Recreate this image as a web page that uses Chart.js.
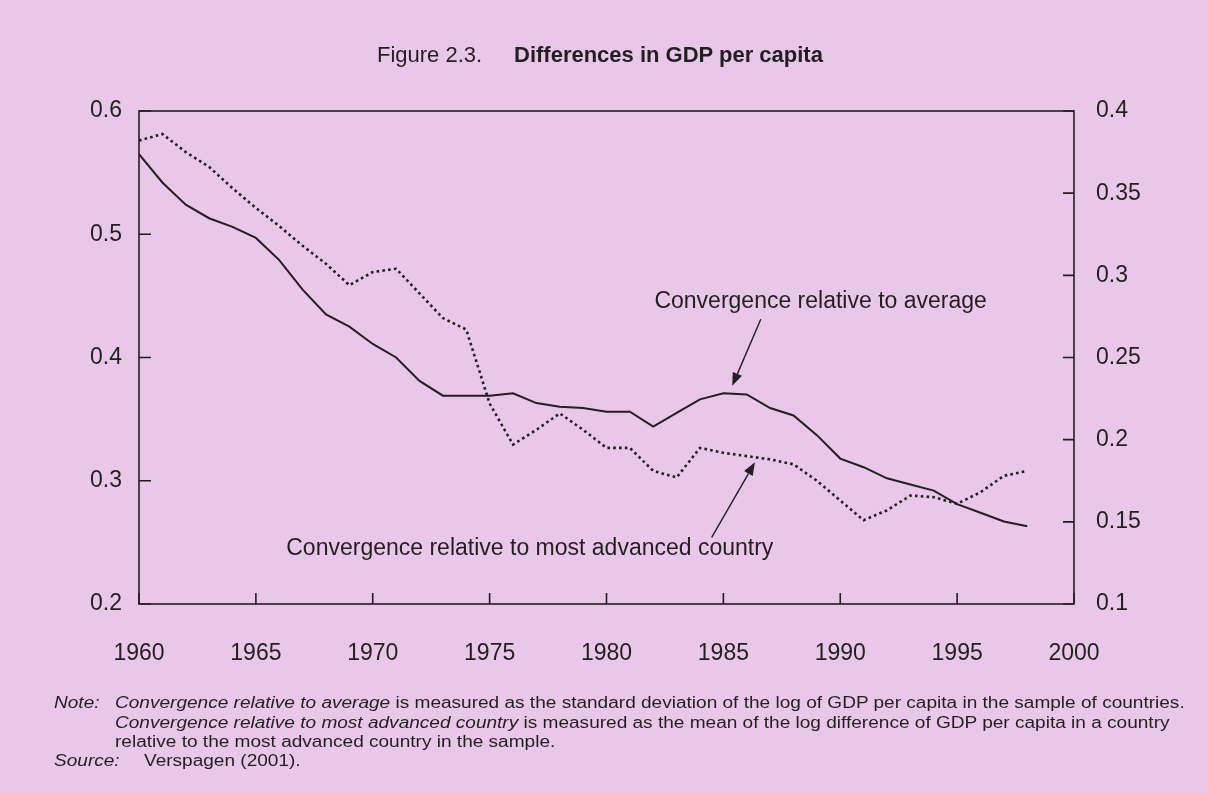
<!DOCTYPE html>
<html>
<head>
<meta charset="utf-8">
<script src="https://cdn.jsdelivr.net/npm/chart.js@4"></script>
<style>
  html, body { margin: 0; padding: 0; background: #e8c7e9; }
  body { width: 1207px; height: 793px; position: relative; overflow: hidden;
         font-family: "Liberation Sans", Arial, sans-serif; color: #231f20; }
  #wrap { position: absolute; left: 0; top: 0; width: 1207px; height: 793px; }
  .title { position: absolute; top: 42px; font-size: 22px; white-space: nowrap; }
  /* the printed note text is set wide, so stretch it a little */
  .note { position: absolute; font-size: 16px; line-height: 19.5px; white-space: nowrap;
          transform: scaleX(1.19); transform-origin: left top; }
</style>
</head>
<body>
<div id="wrap"><canvas id="myChart" width="1207" height="793"></canvas></div>
<div class="title" style="left:377px">Figure 2.3.</div>
<div class="title" style="left:514px"><b>Differences in GDP per capita</b></div>
<div class="note" style="left:54px; top:693px"><i>Note:</i></div>
<div class="note" style="left:115px; top:693px">
  <i>Convergence relative to average</i> is measured as the standard deviation of the log of GDP per capita in the sample of countries.<br>
  <i>Convergence relative to most advanced country</i> is measured as the mean of the log difference of GDP per capita in a country<br>
  relative to the most advanced country in the sample.
</div>
<div class="note" style="left:54px; top:751px"><i>Source:</i></div>
<div class="note" style="left:144px; top:751px">Verspagen (2001).</div>

<script>
// data
var years = [1960, 1961, 1962, 1963, 1964, 1965, 1966, 1967, 1968, 1969,
             1970, 1971, 1972, 1973, 1974, 1975, 1976, 1977, 1978, 1979,
             1980, 1981, 1982, 1983, 1984, 1985, 1986, 1987, 1988, 1989,
             1990, 1991, 1992, 1993, 1994, 1995, 1996, 1997, 1998];

// left axis: convergence relative to average
var relAverage = [0.565, 0.542, 0.524, 0.513, 0.506, 0.497, 0.479, 0.455, 0.435, 0.425,
                  0.411, 0.400, 0.381, 0.369, 0.369, 0.369, 0.371, 0.363, 0.360, 0.359,
                  0.356, 0.356, 0.344, 0.355, 0.366, 0.371, 0.370, 0.359, 0.353, 0.337,
                  0.318, 0.311, 0.302, 0.297, 0.292, 0.281, 0.274, 0.267, 0.263];

// right axis: convergence relative to most advanced country
var relAdvanced = [0.382, 0.386, 0.375, 0.366, 0.353, 0.341, 0.330, 0.318, 0.307, 0.294,
                   0.302, 0.304, 0.289, 0.274, 0.267, 0.222, 0.197, 0.206, 0.216, 0.206,
                   0.195, 0.195, 0.181, 0.177, 0.195, 0.192, 0.190, 0.188, 0.185, 0.175,
                   0.163, 0.151, 0.157, 0.166, 0.165, 0.161, 0.168, 0.178, 0.181];

var xTicks = [1960, 1965, 1970, 1975, 1980, 1985, 1990, 1995, 2000];
var leftTicks = [0.2, 0.3, 0.4, 0.5, 0.6];
var rightTicks = [0.1, 0.15, 0.2, 0.25, 0.3, 0.35, 0.4];

// labels with arrows, positioned in year / left-axis units
var labelAverage = { text: 'Convergence relative to average', x: 1982.05, y: 0.445,
                     from: [1986.6, 0.431], to: [1985.38, 0.377] };
var labelAdvanced = { text: 'Convergence relative to most advanced country', x: 1966.3, y: 0.245,
                      from: [1984.5, 0.254], to: [1986.35, 0.315] };

var ink = '#231f20';
var font = '"Liberation Sans", Arial, sans-serif';

function pts(vals) {
    return years.map(function (y, i) { return { x: y, y: vals[i] }; });
}

var frame = {
    id: 'frame',
    afterDraw: function (chart) {
        var ctx = chart.ctx, a = chart.chartArea;
        var sx = chart.scales.x, sl = chart.scales.yL, sr = chart.scales.yR;
        ctx.save();
        ctx.strokeStyle = ink;
        ctx.lineWidth = 1.6;
        ctx.strokeRect(a.left, a.top, a.right - a.left, a.bottom - a.top);
        ctx.beginPath();
        xTicks.forEach(function (v) {
            var p = sx.getPixelForValue(v);
            ctx.moveTo(p, a.bottom); ctx.lineTo(p, a.bottom - 11);
        });
        leftTicks.forEach(function (v) {
            var p = sl.getPixelForValue(v);
            ctx.moveTo(a.left, p); ctx.lineTo(a.left + 12, p);
        });
        rightTicks.forEach(function (v) {
            var p = sr.getPixelForValue(v);
            ctx.moveTo(a.right, p); ctx.lineTo(a.right - 11, p);
        });
        ctx.stroke();

        // annotations
        ctx.fillStyle = ink;
        ctx.font = '23px ' + font;
        ctx.textBaseline = 'middle';
        [labelAverage, labelAdvanced].forEach(function (l) {
            ctx.fillText(l.text, sx.getPixelForValue(l.x), sl.getPixelForValue(l.y));
            var x1 = sx.getPixelForValue(l.from[0]), y1 = sl.getPixelForValue(l.from[1]);
            var x2 = sx.getPixelForValue(l.to[0]), y2 = sl.getPixelForValue(l.to[1]);
            var ang = Math.atan2(y2 - y1, x2 - x1);
            var hl = 13, hw = 5;
            var bx = x2 - hl * Math.cos(ang), by = y2 - hl * Math.sin(ang);
            ctx.lineWidth = 1.4;
            ctx.beginPath();
            ctx.moveTo(x1, y1); ctx.lineTo(bx, by);
            ctx.stroke();
            ctx.beginPath();
            ctx.moveTo(x2, y2);
            ctx.lineTo(bx + hw * Math.sin(ang), by - hw * Math.cos(ang));
            ctx.lineTo(bx - hw * Math.sin(ang), by + hw * Math.cos(ang));
            ctx.closePath();
            ctx.fill();
        });
        ctx.restore();
    }
};

var ctx = document.getElementById('myChart').getContext('2d');
var myChart = new Chart(ctx, {
    type: 'line',
    data: {
        datasets: [{
            label: 'Convergence relative to average',
            data: pts(relAverage),
            yAxisID: 'yL',
            borderColor: ink,
            borderWidth: 2,
            pointRadius: 0,
            tension: 0
        }, {
            label: 'Convergence relative to most advanced country',
            data: pts(relAdvanced),
            yAxisID: 'yR',
            borderColor: ink,
            borderWidth: 2.6,
            borderDash: [2.6, 3.2],
            pointRadius: 0,
            tension: 0
        }]
    },
    options: {
        responsive: false,
        animation: false,
        layout: { padding: { top: 111, left: 0, right: 0, bottom: 0 } },
        plugins: {
            legend: { display: false },
            tooltip: { enabled: false },
            title: { display: false }
        },
        scales: {
            x: {
                type: 'linear',
                min: 1960, max: 2000,
                afterBuildTicks: function (s) { s.ticks = xTicks.map(function (v) { return { value: v }; }); },
                afterFit: function (s) { s.height = 189; },
                grid: { display: false, drawTicks: false },
                border: { display: false },
                ticks: {
                    padding: 36,
                    color: ink,
                    font: { family: font, size: 23 },
                    maxRotation: 0,
                    callback: function (v) { return String(v); }
                }
            },
            yL: {
                type: 'linear',
                position: 'left',
                min: 0.2, max: 0.6,
                afterBuildTicks: function (s) { s.ticks = leftTicks.map(function (v) { return { value: v }; }); },
                afterFit: function (s) { s.width = 139; },
                grid: { display: false, drawTicks: false },
                border: { display: false },
                ticks: {
                    padding: 17,
                    color: ink,
                    font: { family: font, size: 23 },
                    callback: function (v) { return String(parseFloat(v.toFixed(2))); }
                }
            },
            yR: {
                type: 'linear',
                position: 'right',
                min: 0.1, max: 0.4,
                afterBuildTicks: function (s) { s.ticks = rightTicks.map(function (v) { return { value: v }; }); },
                afterFit: function (s) { s.width = 133; },
                grid: { display: false, drawTicks: false },
                border: { display: false },
                ticks: {
                    padding: 22,
                    color: ink,
                    font: { family: font, size: 23 },
                    callback: function (v) { return String(parseFloat(v.toFixed(2))); }
                }
            }
        }
    },
    plugins: [frame]
});
</script>
</body>
</html>
